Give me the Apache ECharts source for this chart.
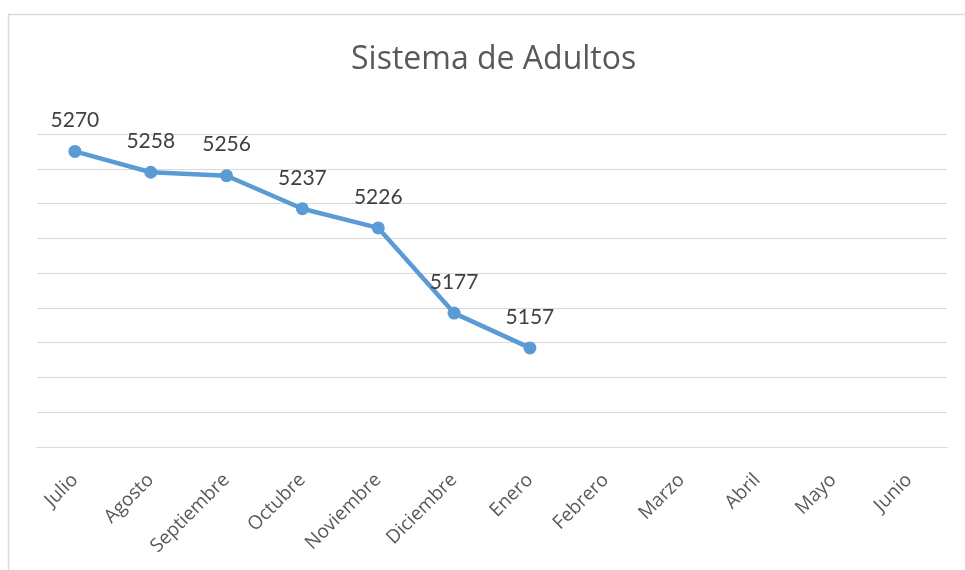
<!DOCTYPE html>
<html><head><meta charset="utf-8">
<script src="https://cdn.jsdelivr.net/npm/echarts@6/dist/echarts.min.js"></script>
<style>html,body{margin:0;padding:0;background:#fff}#c{width:965px;height:570px}</style>
</head><body><div id="c"></div>
<script>
const titleText = "Sistema de Adultos";
const categories = ["Julio","Agosto","Septiembre","Octubre","Noviembre","Diciembre","Enero","Febrero","Marzo","Abril","Mayo","Junio"];
const values = [5270,5258,5256,5237,5226,5177,5157,null,null,null,null,null];
const yMin = 5100, yMax = 5280, yStep = 20;

const chart = echarts.init(document.getElementById('c'), null, {renderer:'canvas'});
chart.setOption({
  animation:false,
  backgroundColor:'#fff',
  title:{text:titleText,left:346,top:39,itemGap:0,
    textStyle:{fontFamily:'Open Sans',fontSize:32,fontWeight:'normal',color:'#595959'}},
  graphic:[{type:'rect',shape:{x:8.5,y:14.5,width:980,height:570},
    style:{fill:null,stroke:'#d9d9d9',lineWidth:1.5},silent:true,z:-1}],
  grid:{left:37,right:18,top:134,bottom:123,containLabel:false},
  xAxis:{type:'category',data:categories,boundaryGap:true,
    axisLine:{show:true,lineStyle:{color:'#d9d9d9',width:1}},
    axisTick:{show:false},
    axisLabel:{rotate:45,margin:30,interval:0,color:'#595959',fontFamily:'Open Sans',fontSize:19}},
  yAxis:{type:'value',min:yMin,max:yMax,interval:yStep,
    axisLine:{show:false},axisTick:{show:false},axisLabel:{show:false},
    splitLine:{lineStyle:{color:'#d9d9d9',width:1}}},
  series:[{type:'line',data:values,
    lineStyle:{color:'#5B9BD5',width:4.5},
    itemStyle:{color:'#5B9BD5'},
    symbol:'circle',symbolSize:13,
    label:{show:true,position:'top',distance:14,color:'#404040',fontFamily:'Lato',fontSize:21}}]
});
</script></body></html>
